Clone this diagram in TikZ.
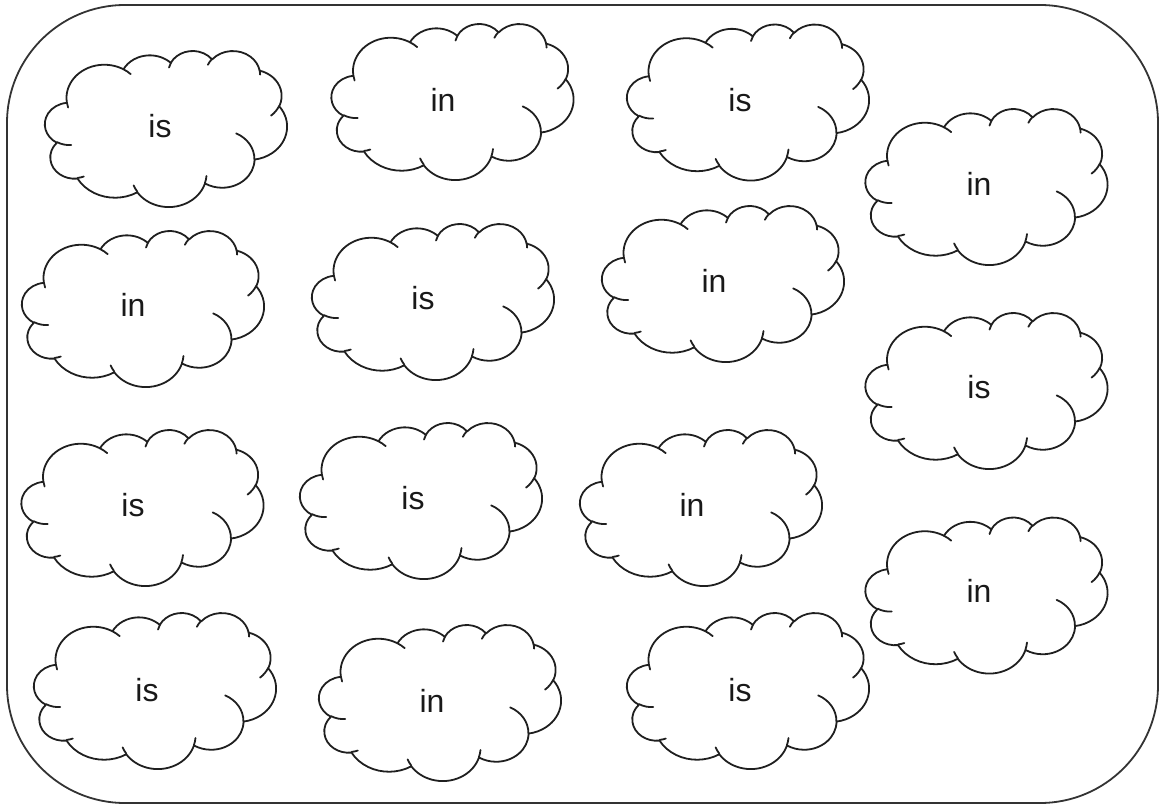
\documentclass[tikz,border=0pt]{standalone}
\usepackage{fontspec}
\setmainfont{Liberation Sans}
\newcommand\oarc[4]{arc[x radius=#1, y radius=#2, start angle={vpa(#3,#1,#2)}, end angle={vpa((#3)+(#4),#1,#2)}]}
\tikzset{
  declare function={vpa(\cA,\cX,\cY)=atan2(\cX*sin(\cA),\cY*cos(\cA))+360*round((\cA-atan2(\cX*sin(\cA),\cY*cos(\cA)))/360);},
  cloudline/.style={draw=black!88, line width=1.8pt, line join=round, line cap=round},
  frame/.style={draw=black!80, line width=1.8pt, rounded corners=118pt},
  lbl/.style={font=\fontsize{32}{38}\selectfont, text=black!90, inner sep=0pt},
  pics/cloud/.style 2 args={code={
    \begin{scope}[x=1cm,y=1cm,xscale=#1/1229.158,yscale=-#2/1229.158]
      \draw[cloudline] (-17.7,-7.23)
        \oarc{6.753}{9.190}{-190.4875}{123.7805}
        \oarc{5.333}{7.267}{-144.1024}{89.9452}
        \oarc{4.365}{5.945}{-145.8079}{99.7230}
        \oarc{4.857}{6.595}{-130.9861}{117.2417}
        \oarc{5.333}{7.273}{-78.7089}{109.0269}
        \oarc{6.775}{9.220}{-46.2673}{130.2690}
        \oarc{5.785}{7.867}{0.6250}{114.0333}
        \oarc{6.752}{9.215}{22.4516}{115.1726}
        \oarc{7.720}{10.543}{66.2426}{75.7110}
        \oarc{4.360}{5.918}{-274.9421}{146.7356}
        \oarc{4.345}{5.945}{-246.8285}{152.5189}
        -- cycle;
      \draw[cloudline]
        (-16.907,4.577) \oarc{4.345}{5.945}{86.7420}{26.4295}
        (-14.672,13.299) \oarc{4.360}{5.918}{73.6105}{11.4475}
        (-5.122,17.490) \oarc{6.752}{9.215}{137.6242}{14.0811}
        (7.227,13.151) \oarc{6.752}{9.215}{6.4533}{15.9984}
        (12.529,1.354) \oarc{5.785}{7.867}{-70.2924}{70.9174}
        (20.198,-6.246) \oarc{5.333}{7.273}{30.3180}{27.7515}
        (16.724,-16.174) \oarc{4.857}{6.595}{-13.7443}{14.8589}
        (7.478,-17.648) \oarc{4.857}{6.595}{-149.1815}{18.1954}
        (0.541,-16.880) \oarc{4.365}{5.945}{-163.4943}{17.6864}
        (-7.600,-16.408) \oarc{6.753}{9.190}{-66.7070}{12.3194}
        (-17.473,-5.811) \oarc{6.753}{9.190}{157.6544}{11.8582};
    \end{scope}
  }}
}
\begin{document}
\begin{tikzpicture}[x=1pt,y=-1pt]
  \useasboundingbox (0,0) rectangle (1161,810);
  \draw[frame] (7,5) rectangle (1158,803);
  % clouds (centres of their outlines)
  \foreach \cx/\cy in {166/128.5, 452.5/101.5, 748/102, 986.5/186.5,
                       143/308.5, 433/301.5, 723/283.5, 986.5/390.5,
                       142.5/507.5, 421/500.5, 701/507.5, 986.5/595,
                       155/690.5, 440/702.5, 748/690.5}
    \pic at (\cx,\cy) {cloud={242}{156}};
  % labels
  \node[lbl] (a) at (160,126) {is};
  \node[lbl] (b) at (443,100) {in};
  \node[lbl] (c) at (740,100) {is};
  \node[lbl] (d) at (979,184) {in};
  \node[lbl] (e) at (133,305) {in};
  \node[lbl] (f) at (423,298) {is};
  \node[lbl] (g) at (714,281) {in};
  \node[lbl] (h) at (979,387) {is};
  \node[lbl] (i) at (133,505) {is};
  \node[lbl] (j) at (413,498) {is};
  \node[lbl] (k) at (692,505) {in};
  \node[lbl] (l) at (979,591) {in};
  \node[lbl] (m) at (147,690) {is};
  \node[lbl] (n) at (432,701) {in};
  \node[lbl] (o) at (740,690) {is};
\end{tikzpicture}
\end{document}
